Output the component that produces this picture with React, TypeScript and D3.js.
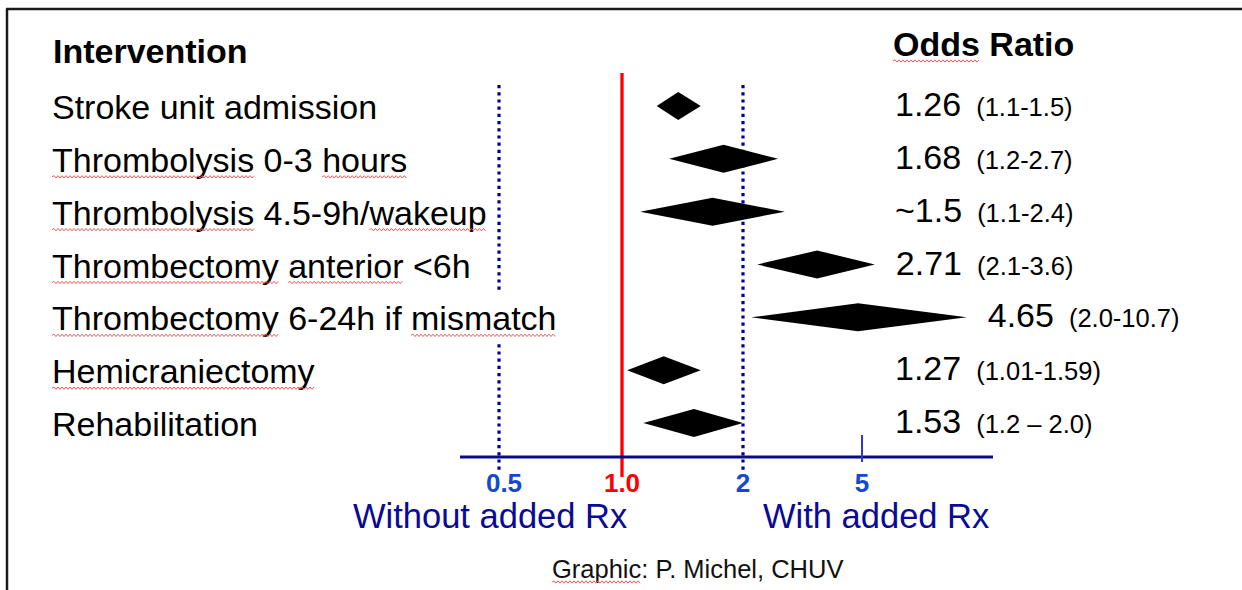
import { useEffect, useRef } from "react";
import * as d3 from "d3";

const interventions = [
  "Stroke unit admission",
  "Thrombolysis 0-3 hours",
  "Thrombolysis 4.5-9h/wakeup",
  "Thrombectomy anterior <6h",
  "Thrombectomy 6-24h if mismatch",
  "Hemicraniectomy",
  "Rehabilitation",
];
const oddsRatios = ["1.26", "1.68", "~1.5", "2.71", "4.65", "1.27", "1.53"];
const ciRanges = ["(1.1-1.5)", "(1.2-2.7)", "(1.1-2.4)", "(2.1-3.6)", "(2.0-10.7)", "(1.01-1.59)", "(1.2 – 2.0)"];

// diamond ends and peaks, as drawn on the axis
const diamondLow = [1.22, 1.31, 1.11, 2.23, 2.13, 1.03, 1.13];
const diamondMid = [1.38, 1.79, 1.68, 3.54, 4.85, 1.27, 1.51];
const diamondHigh = [1.57, 2.62, 2.76, 5.52, 11.2, 1.57, 2.0];

const axisTicks = [0.5, 1, 2, 5];
const axisTickLabels = ["0.5", "1.0", "2", "5"];

// words with the red spell-check squiggle
const spellFlags = [[], ["Thrombolysis", "hours"], ["Thrombolysis", "wakeup"], ["Thrombectomy", "anterior"], ["Thrombectomy", "mismatch"], ["Hemicraniectomy"], []];

const FONT = "'Liberation Sans', Arial, sans-serif";

function squiggle(x0: number, x1: number, y: number) {
  let d = `M${x0},${y}`;
  let up = true;
  for (let x = x0 + 2; x <= x1; x += 2) {
    d += `L${x},${up ? y - 1.2 : y + 1.2}`;
    up = !up;
  }
  return d;
}

function underlineWord(svg: any, textNode: SVGTextElement, str: string, word: string, yy: number) {
  const i = str.indexOf(word);
  if (i < 0) return;
  const a = textNode.getStartPositionOfChar(i).x;
  const b = textNode.getEndPositionOfChar(i + word.length - 1).x;
  svg.append("path")
    .attr("d", squiggle(a, b, yy))
    .attr("fill", "none")
    .attr("stroke", "#f25a5a")
    .attr("stroke-width", 1);
}

export default function App() {
  const ref = useRef<SVGSVGElement>(null);

  useEffect(() => {
    const svg = d3.select(ref.current);
    svg.selectAll("*").remove();

    const x = d3.scaleLog().domain(axisTicks).range([499, 622, 743, 862]);
    const y = d3.scalePoint<string>().domain(interventions).range([106, 423]);
    const axisY = 457;

    // frame
    svg.append("line").attr("x1", 6).attr("x2", 1242).attr("y1", 9).attr("y2", 9)
      .attr("stroke", "#1a1a1a").attr("stroke-width", 2.5);
    svg.append("line").attr("x1", 7).attr("x2", 7).attr("y1", 9).attr("y2", 590)
      .attr("stroke", "#1a1a1a").attr("stroke-width", 2.5);

    // reference lines
    [0.5, 2].forEach(v => {
      svg.append("line")
        .attr("x1", x(v)).attr("x2", x(v)).attr("y1", 85).attr("y2", 470)
        .attr("stroke", "#000099").attr("stroke-width", 3.2)
        .attr("stroke-dasharray", "3.2,4");
    });
    svg.append("line")
      .attr("x1", x(1)).attr("x2", x(1)).attr("y1", 73).attr("y2", 477)
      .attr("stroke", "#ff0000").attr("stroke-width", 3.3);

    // axis
    svg.append("line").attr("x1", 460).attr("x2", 993).attr("y1", axisY).attr("y2", axisY)
      .attr("stroke", "#0a0a8f").attr("stroke-width", 3);
    svg.append("line").attr("x1", x(5)).attr("x2", x(5)).attr("y1", 435).attr("y2", 462)
      .attr("stroke", "#3535c8").attr("stroke-width", 2);

    svg.append("g").selectAll("text")
      .data(axisTicks)
      .join("text")
      .attr("x", d => x(d) + (d === 0.5 ? 5 : 0))
      .attr("y", 492)
      .attr("text-anchor", "middle")
      .attr("font-family", FONT)
      .attr("font-weight", "bold")
      .attr("font-size", 26)
      .attr("fill", d => (d === 1 ? "#ff0000" : "#1448d0"))
      .text((d, i) => axisTickLabels[i]);

    // column titles
    svg.append("text").attr("x", 53).attr("y", 63)
      .attr("font-family", FONT).attr("font-weight", "bold").attr("font-size", 34)
      .text("Intervention");
    const orTitle = svg.append("text").attr("x", 893).attr("y", 56)
      .attr("font-family", FONT).attr("font-weight", "bold").attr("font-size", 34)
      .text("Odds Ratio");
    underlineWord(svg, orTitle.node() as SVGTextElement, "Odds Ratio", "Odds", 61);

    // intervention labels
    interventions.forEach((name, i) => {
      const base = y(name)! + 13;
      const bg = svg.append("rect").attr("fill", "#fff");
      const t = svg.append("text")
        .attr("x", 52).attr("y", base)
        .attr("font-family", FONT).attr("font-size", 34)
        .attr("fill", "#000")
        .text(name);
      const bb = (t.node() as SVGTextElement).getBBox();
      bg.attr("x", bb.x - 2).attr("y", bb.y - 8).attr("width", bb.width + 4).attr("height", bb.height + 14);
      spellFlags[i].forEach(w => underlineWord(svg, t.node() as SVGTextElement, name, w, base + 5));
    });

    // diamonds
    const hh = 14;
    svg.append("g").selectAll("path")
      .data(interventions)
      .join("path")
      .attr("d", (d, i) => {
        const cy = y(d)!;
        const pts: [number, number][] = [
          [x(diamondLow[i]), cy],
          [x(diamondMid[i]), cy - hh],
          [x(diamondHigh[i]), cy],
          [x(diamondMid[i]), cy + hh],
        ];
        return d3.line()(pts) + "Z";
      })
      .attr("fill", "#000");

    // odds ratio text
    interventions.forEach((name, i) => {
      const tx = Math.max(895, x(diamondHigh[i]) + 21);
      const t = svg.append("text")
        .attr("x", tx).attr("y", y(name)! + 10)
        .attr("font-family", FONT).attr("fill", "#000");
      t.append("tspan").attr("font-size", 34).text(oddsRatios[i]);
      t.append("tspan").attr("dx", 15).attr("font-size", 25.5).text(ciRanges[i]);
    });

    // direction captions
    svg.append("text").attr("x", 353).attr("y", 528)
      .attr("font-family", FONT).attr("font-size", 34.5).attr("fill", "#0a0a96")
      .text("Without added Rx");
    svg.append("text").attr("x", 763).attr("y", 528)
      .attr("font-family", FONT).attr("font-size", 34.5).attr("fill", "#0a0a96")
      .text("With added Rx");

    // credit
    const credit = svg.append("text").attr("x", 552).attr("y", 578)
      .attr("font-family", FONT).attr("font-size", 25.5).attr("fill", "#111")
      .text("Graphic: P. Michel, CHUV");
    underlineWord(svg, credit.node() as SVGTextElement, "Graphic: P. Michel, CHUV", "Graphic", 582);
  }, []);

  return (
    <svg
      ref={ref}
      width={1242}
      height={590}
      style={{ position: "absolute", left: 0, top: 0, background: "#fff" }}
    />
  );
}
